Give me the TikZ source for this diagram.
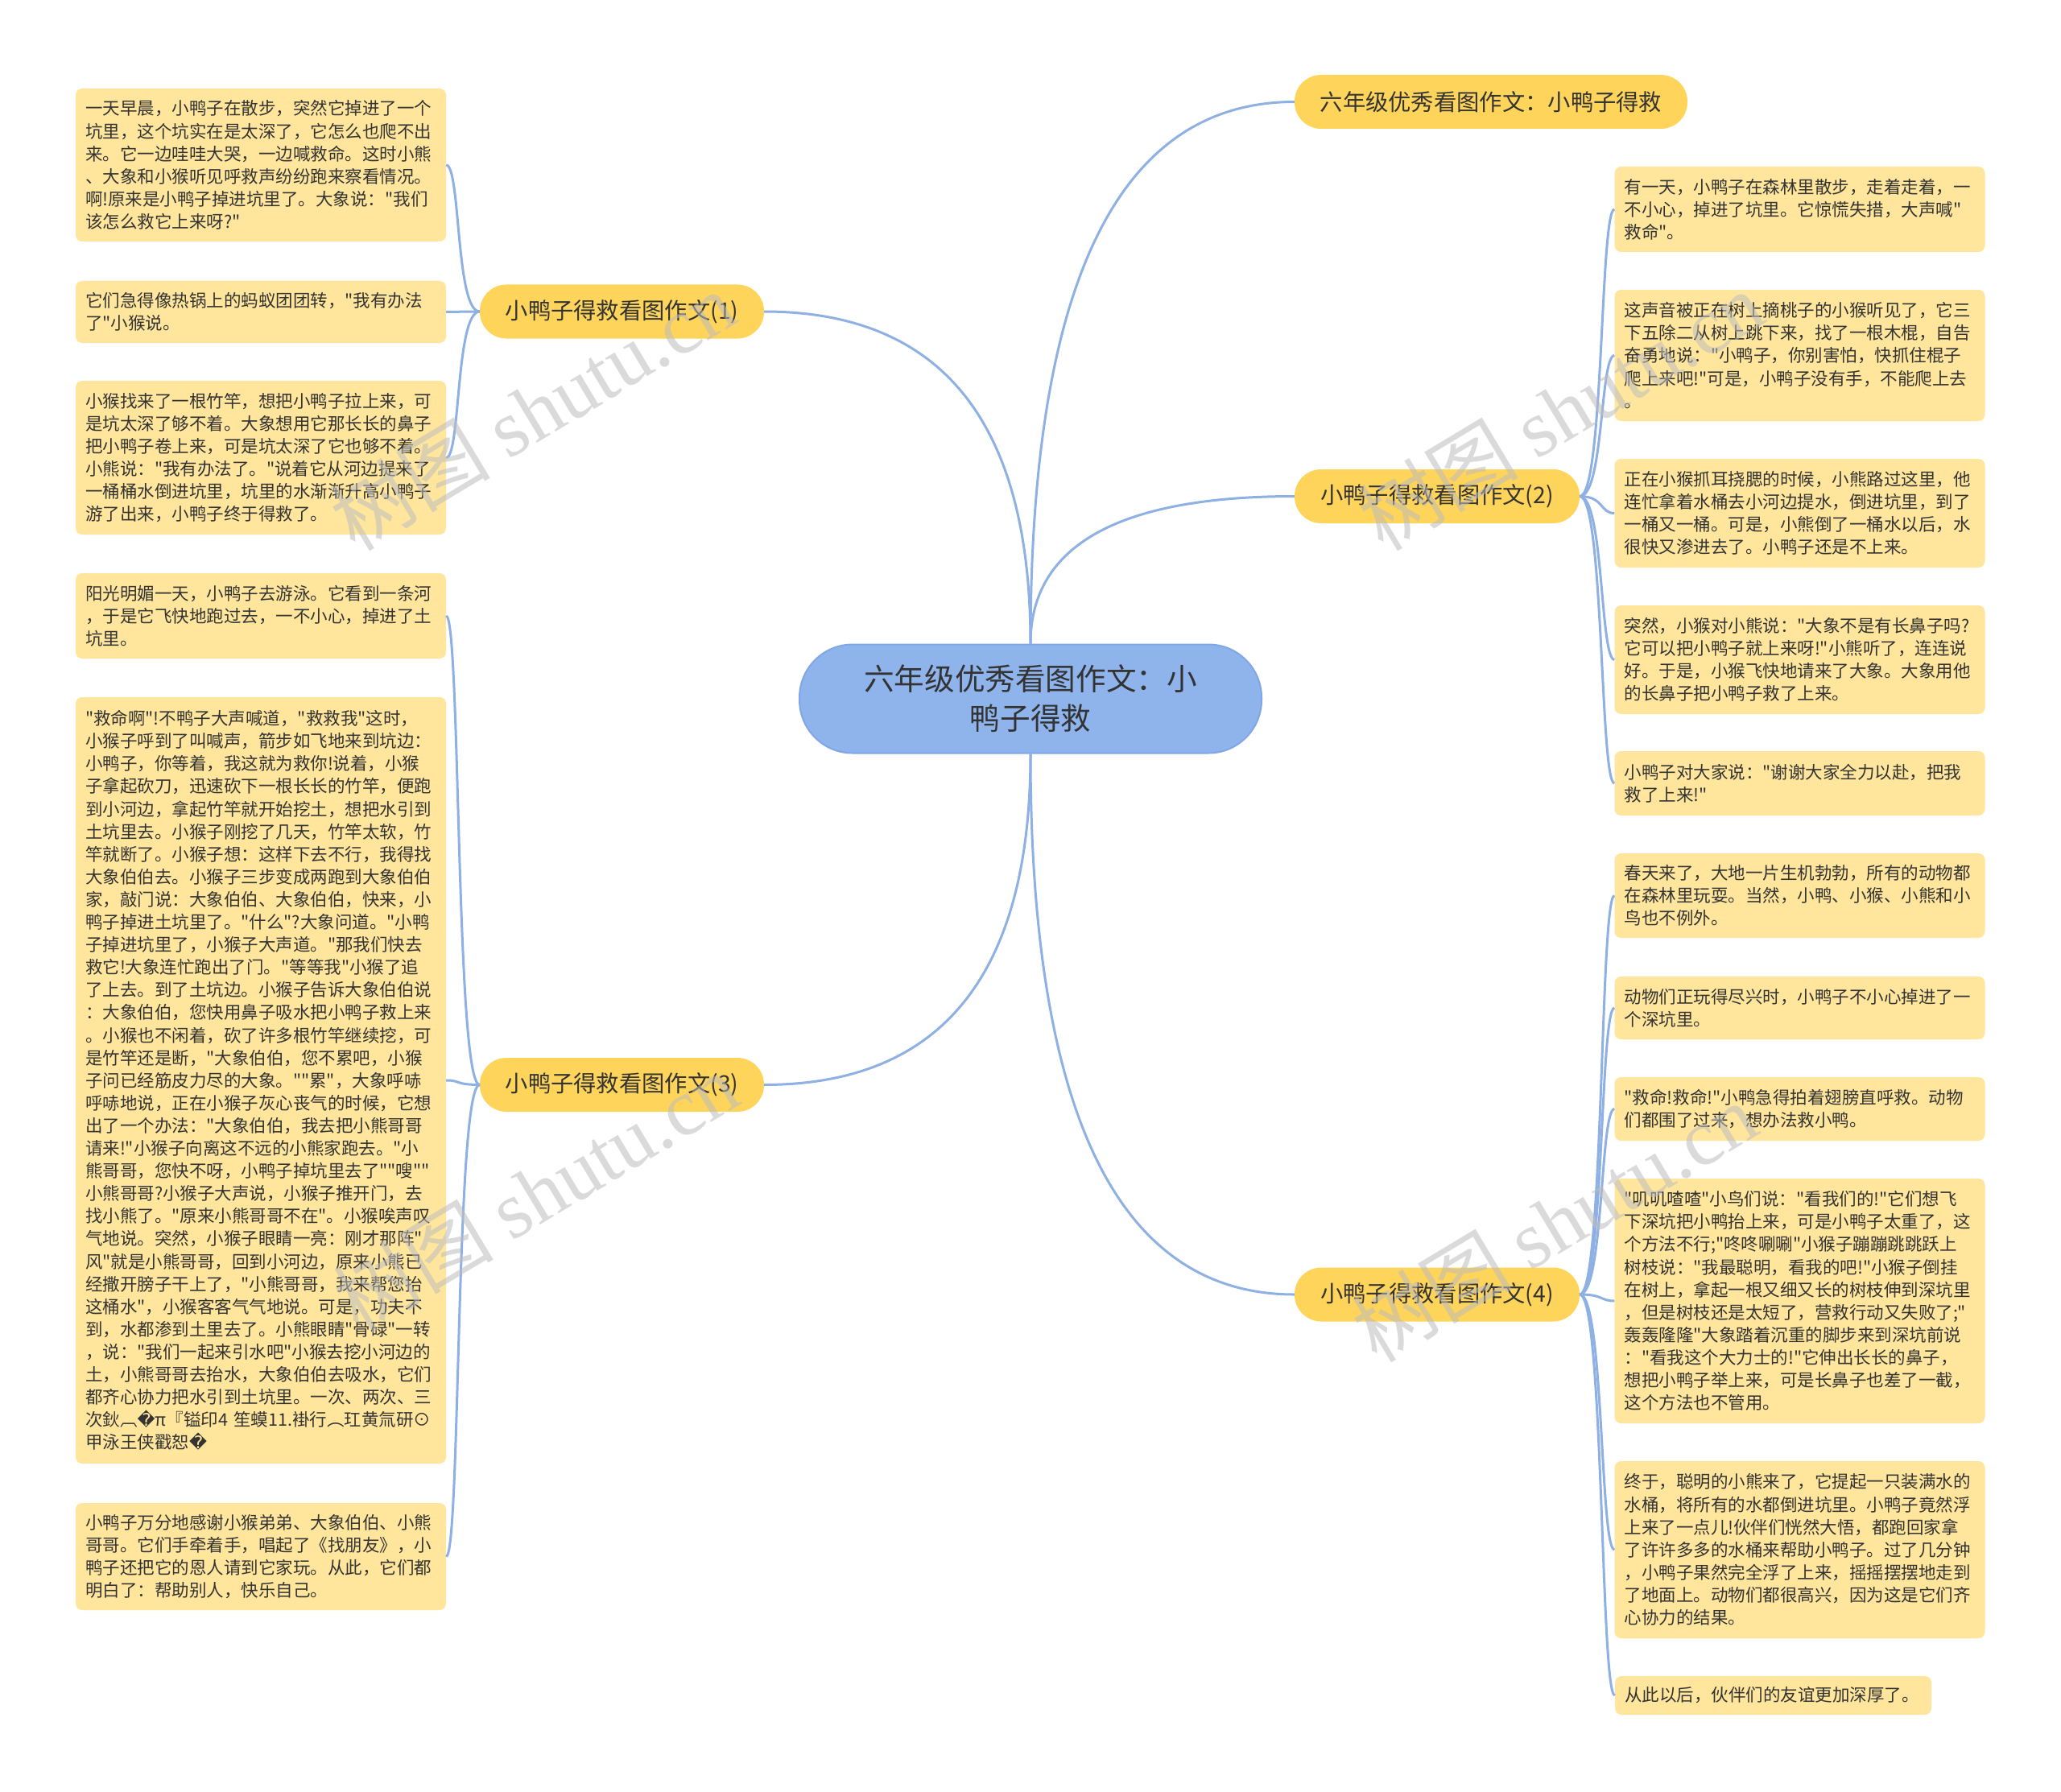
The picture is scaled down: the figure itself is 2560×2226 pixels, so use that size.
\documentclass[tikz,border=0pt]{standalone}
\usepackage{fontspec}
\setmainfont{Noto Sans CJK SC}
\newfontfamily\cjk{Noto Sans CJK SC}
\newfontfamily\wmserif{Liberation Serif}
\newfontfamily\djv{DejaVu Sans}
\usetikzlibrary{calc}
\definecolor{leafc}{HTML}{FFE69C}
\definecolor{branchc}{HTML}{FFD45B}
\definecolor{rootc}{HTML}{8FB4EC}
\definecolor{rootb}{HTML}{7FA6E6}
\definecolor{linec}{HTML}{8FB0E3}
\definecolor{txt}{HTML}{333333}
\definecolor{wmc}{HTML}{BDBDBD}
\newcommand\rootlink[3]{%
  \coordinate (#3) at (#1 |- #2);
  \draw[conn] (#1) .. controls ($(#1)!0.6667!(#3)$) and ($(#2)!0.6667!(#3)$) .. (#2);}
\newcommand\leaflinkR[2]{\draw[conn] (#1.east) .. controls +(30,0) and +(-18,0) .. (#2.west);}
\newcommand\leaflinkL[2]{\draw[conn] (#1.west) .. controls +(-30,0) and +(18,0) .. (#2.east);}
\begin{document}
\begin{tikzpicture}[x=1pt,y=-1pt,
  conn/.style={draw=linec, line width=3pt},
  leaf/.style={fill=leafc, rounded corners=8pt, text width=436pt, inner xsep=12pt, inner ysep=0pt,
    align=left, font=\cjk\fontsize{21.5}{28.1}\selectfont, text=txt},
  branch/.style={fill=branchc, rounded corners=33pt, minimum height=67pt, inner xsep=0pt,
    align=center, font=\cjk\fontsize{28.3}{34}\selectfont, text=txt},
  rootnode/.style={fill=rootc, draw=rootb, line width=2pt, rounded corners=66pt, minimum width=574pt,
    minimum height=135pt, align=center, font=\cjk\fontsize{37.6}{49}\selectfont, text=txt},
  wm/.style={text=wmc, opacity=0.55, rotate=31, font=\cjk\fontsize{100}{100}\selectfont, inner sep=0pt}
]
\useasboundingbox (0,0) rectangle (2560,2226);
\fill[white] (0,0) rectangle (2560,2226);

% root
\node[rootnode] (root) at (1280,868) {六年级优秀看图作文：小\\鸭子得救};

% branches
\node[branch, minimum width=488pt] (top) at (1852,126.5) {六年级优秀看图作文：小鸭子得救};
\node[branch, minimum width=354pt] (b2) at (1785,616.5) {小鸭子得救看图作文(2)};
\node[branch, minimum width=354pt] (b4) at (1785,1608) {小鸭子得救看图作文(4)};
\node[branch, minimum width=353pt] (b1) at (772.5,387) {小鸭子得救看图作文(1)};
\node[branch, minimum width=353pt] (b3) at (772.5,1347.5) {小鸭子得救看图作文(3)};

% left leaves (1)
\node[leaf, minimum height=190pt] (l1) at (324,205) {一天早晨，小鸭子在散步，突然它掉进了一个\\坑里，这个坑实在是太深了，它怎么也爬不出\\来。它一边哇哇大哭，一边喊救命。这时小熊\\、大象和小猴听见呼救声纷纷跑来察看情况。\\啊!原来是小鸭子掉进坑里了。大象说："我们\\该怎么救它上来呀?"};
\node[leaf, minimum height=77pt] (l2) at (324,387.5) {它们急得像热锅上的蚂蚁团团转，"我有办法\\了"小猴说。};
\node[leaf, minimum height=191pt] (l3) at (324,568.5) {小猴找来了一根竹竿，想把小鸭子拉上来，可\\是坑太深了够不着。大象想用它那长长的鼻子\\把小鸭子卷上来，可是坑太深了它也够不着。\\小熊说："我有办法了。"说着它从河边提来了\\一桶桶水倒进坑里，坑里的水渐渐升高小鸭子\\游了出来，小鸭子终于得救了。};

% left leaves (3)
\node[leaf, minimum height=106pt] (l4) at (324,765) {阳光明媚一天，小鸭子去游泳。它看到一条河\\，于是它飞快地跑过去，一不小心，掉进了土\\坑里。};
\node[leaf, minimum height=952pt] (l5) at (324,1342) {"救命啊"!不鸭子大声喊道，"救救我"这时，\\小猴子呼到了叫喊声，箭步如飞地来到坑边：\\小鸭子，你等着，我这就为救你!说着，小猴\\子拿起砍刀，迅速砍下一根长长的竹竿，便跑\\到小河边，拿起竹竿就开始挖土，想把水引到\\土坑里去。小猴子刚挖了几天，竹竿太软，竹\\竿就断了。小猴子想：这样下去不行，我得找\\大象伯伯去。小猴子三步变成两跑到大象伯伯\\家，敲门说：大象伯伯、大象伯伯，快来，小\\鸭子掉进土坑里了。"什么"?大象问道。"小鸭\\子掉进坑里了，小猴子大声道。"那我们快去\\救它!大象连忙跑出了门。"等等我"小猴了追\\了上去。到了土坑边。小猴子告诉大象伯伯说\\：大象伯伯，您快用鼻子吸水把小鸭子救上来\\。小猴也不闲着，砍了许多根竹竿继续挖，可\\是竹竿还是断，"大象伯伯，您不累吧，小猴\\子问已经筋皮力尽的大象。""累"，大象呼哧\\呼哧地说，正在小猴子灰心丧气的时候，它想\\出了一个办法："大象伯伯，我去把小熊哥哥\\请来!"小猴子向离这不远的小熊家跑去。"小\\熊哥哥，您快不呀，小鸭子掉坑里去了""嗖""\\小熊哥哥?小猴子大声说，小猴子推开门，去\\找小熊了。"原来小熊哥哥不在"。小猴唉声叹\\气地说。突然，小猴子眼睛一亮：刚才那阵"\\风"就是小熊哥哥，回到小河边，原来小熊已\\经撒开膀子干上了，"小熊哥哥，我来帮您抬\\这桶水"，小猴客客气气地说。可是，功夫不\\到，水都渗到土里去了。小熊眼睛"骨碌"一转\\，说："我们一起来引水吧"小猴去挖小河边的\\土，小熊哥哥去抬水，大象伯伯去吸水，它们\\都齐心协力把水引到土坑里。一次、两次、三\\次鈥︹{\djv �}π『镒印4~笙蟆11.褂行︵玒黄氚研⊙\\甲泳王侠戳恕{\djv �}};
\node[leaf, minimum height=133pt] (l6) at (324,1933.5) {小鸭子万分地感谢小猴弟弟、大象伯伯、小熊\\哥哥。它们手牵着手，唱起了《找朋友》，小\\鸭子还把它的恩人请到它家玩。从此，它们都\\明白了：帮助别人，快乐自己。};

% right leaves (2)
\node[leaf, minimum height=106pt] (r1) at (2235.5,260) {有一天，小鸭子在森林里散步，走着走着，一\\不小心，掉进了坑里。它惊慌失措，大声喊"\\救命"。};
\node[leaf, minimum height=163pt] (r2) at (2235.5,441.5) {这声音被正在树上摘桃子的小猴听见了，它三\\下五除二从树上跳下来，找了一根木棍，自告\\奋勇地说："小鸭子，你别害怕，快抓住棍子\\爬上来吧!"可是，小鸭子没有手，不能爬上去\\。};
\node[leaf, minimum height=135pt] (r3) at (2235.5,637.5) {正在小猴抓耳挠腮的时候，小熊路过这里，他\\连忙拿着水桶去小河边提水，倒进坑里，到了\\一桶又一桶。可是，小熊倒了一桶水以后，水\\很快又渗进去了。小鸭子还是不上来。};
\node[leaf, minimum height=135pt] (r4) at (2235.5,819.5) {突然，小猴对小熊说："大象不是有长鼻子吗?\\它可以把小鸭子就上来呀!"小熊听了，连连说\\好。于是，小猴飞快地请来了大象。大象用他\\的长鼻子把小鸭子救了上来。};
\node[leaf, minimum height=80pt] (r5) at (2235.5,973) {小鸭子对大家说："谢谢大家全力以赴，把我\\救了上来!"};

% right leaves (4)
\node[leaf, minimum height=105pt] (r6) at (2235.5,1112.5) {春天来了，大地一片生机勃勃，所有的动物都\\在森林里玩耍。当然，小鸭、小猴、小熊和小\\鸟也不例外。};
\node[leaf, minimum height=78pt] (r7) at (2235.5,1252) {动物们正玩得尽兴时，小鸭子不小心掉进了一\\个深坑里。};
\node[leaf, minimum height=79pt] (r8) at (2235.5,1377.5) {"救命!救命!"小鸭急得拍着翅膀直呼救。动物\\们都围了过来，想办法救小鸭。};
\node[leaf, minimum height=304pt] (r9) at (2235.5,1616) {"叽叽喳喳"小鸟们说："看我们的!"它们想飞\\下深坑把小鸭抬上来，可是小鸭子太重了，这\\个方法不行;"咚咚唰唰"小猴子蹦蹦跳跳跃上\\树枝说："我最聪明，看我的吧!"小猴子倒挂\\在树上，拿起一根又细又长的树枝伸到深坑里\\，但是树枝还是太短了，营救行动又失败了;"\\轰轰隆隆"大象踏着沉重的脚步来到深坑前说\\："看我这个大力士的!"它伸出长长的鼻子，\\想把小鸭子举上来，可是长鼻子也差了一截，\\这个方法也不管用。};
\node[leaf, minimum height=220pt] (r10) at (2235.5,1925) {终于，聪明的小熊来了，它提起一只装满水的\\水桶，将所有的水都倒进坑里。小鸭子竟然浮\\上来了一点儿!伙伴们恍然大悟，都跑回家拿\\了许许多多的水桶来帮助小鸭子。过了几分钟\\，小鸭子果然完全浮了上来，摇摇摆摆地走到\\了地面上。动物们都很高兴，因为这是它们齐\\心协力的结果。};
\node[leaf, text width=369pt, minimum height=48pt] (r11) at (2202.5,2106) {从此以后，伙伴们的友谊更加深厚了。};

% root connectors
\rootlink{root.north}{top.west}{k1}
\rootlink{root.north}{b2.west}{k2}
\rootlink{root.north}{b1.east}{k3}
\rootlink{root.south}{b3.east}{k4}
\rootlink{root.south}{b4.west}{k5}

% leaf connectors
\leaflinkL{b1}{l1}
\leaflinkL{b1}{l2}
\leaflinkL{b1}{l3}
\leaflinkL{b3}{l4}
\leaflinkL{b3}{l5}
\leaflinkL{b3}{l6}
\leaflinkR{b2}{r1}
\leaflinkR{b2}{r2}
\leaflinkR{b2}{r3}
\leaflinkR{b2}{r4}
\leaflinkR{b2}{r5}
\leaflinkR{b4}{r6}
\leaflinkR{b4}{r7}
\leaflinkR{b4}{r8}
\leaflinkR{b4}{r9}
\leaflinkR{b4}{r10}
\leaflinkR{b4}{r11}

% watermarks
\node[wm] (w1) at (661,510) {树图 {\wmserif shutu.cn}};
\node[wm] (w2) at (1938,510) {树图 {\wmserif shutu.cn}};
\node[wm] (w3) at (665,1481) {树图 {\wmserif shutu.cn}};
\node[wm] (w4) at (1930,1518) {树图 {\wmserif shutu.cn}};
\end{tikzpicture}
\end{document}
